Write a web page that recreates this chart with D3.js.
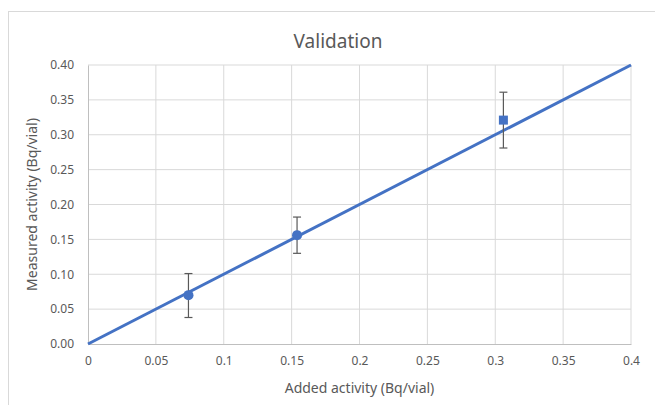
<!DOCTYPE html>
<html>
<head>
<meta charset="utf-8">
<script src="https://cdn.jsdelivr.net/npm/d3@7"></script>
<style>
  body { margin: 0; background: #fff; }
  text { font-family: "Noto Sans", sans-serif; fill: #595959; }
</style>
</head>
<body>
<script>
// data
var addedActivity = [0.074, 0.154, 0.306];
var measuredActivity = [0.070, 0.156, 0.321];
var errLow = [0.038, 0.130, 0.281];
var errHigh = [0.101, 0.182, 0.361];
var markerShape = ["circle", "circle", "square"];
var fitLine = [[0, 0], [0.4, 0.4]];
var xTicks = [0, 0.05, 0.1, 0.15, 0.2, 0.25, 0.3, 0.35, 0.4];
var yTicks = [0, 0.05, 0.1, 0.15, 0.2, 0.25, 0.3, 0.35, 0.4];

var svg = d3.select("body").append("svg")
  .attr("width", 655)
  .attr("height", 405);

// chart border
svg.append("rect")
  .attr("x", 8.5).attr("y", 11.5)
  .attr("width", 660).attr("height", 400)
  .attr("fill", "none")
  .attr("stroke", "#d9d9d9");

var margin = {top: 65, right: 24, bottom: 61, left: 88};
var width = 655 - margin.left - margin.right;
var height = 405 - margin.top - margin.bottom;

var g = svg.append("g")
  .attr("transform", "translate(" + margin.left + "," + margin.top + ")");

var x = d3.scaleLinear().domain([0, 0.4]).range([0, width]);
var y = d3.scaleLinear().domain([0, 0.4]).range([height, 0]);

// gridlines
g.selectAll(".vgrid").data(xTicks.slice(1)).join("line")
  .attr("x1", d => x(d)).attr("x2", d => x(d))
  .attr("y1", 0).attr("y2", height)
  .attr("stroke", "#d9d9d9");
g.selectAll(".hgrid").data(yTicks.slice(1)).join("line")
  .attr("x1", 0).attr("x2", width)
  .attr("y1", d => y(d)).attr("y2", d => y(d))
  .attr("stroke", "#d9d9d9");

// axes
var xAxis = g.append("g")
  .attr("transform", "translate(0," + height + ")")
  .call(d3.axisBottom(x).tickValues(xTicks).tickSize(0).tickPadding(12).tickFormat(d3.format("")));
var yAxis = g.append("g")
  .call(d3.axisLeft(y).tickValues(yTicks).tickSize(0).tickPadding(14).tickFormat(d3.format(".2f")));
xAxis.select(".domain").attr("stroke", "#bfbfbf");
yAxis.select(".domain").attr("stroke", "#bfbfbf");
g.selectAll(".tick text").style("font-size", "12px").attr("fill", "#595959");

// fit line
g.append("path")
  .datum(fitLine)
  .attr("d", d3.line().x(d => x(d[0])).y(d => y(d[1])))
  .attr("stroke", "#4472c4")
  .attr("stroke-width", 3)
  .attr("fill", "none");

// error bars
var pts = addedActivity.map((v, i) => ({x: v, y: measuredActivity[i], lo: errLow[i], hi: errHigh[i], shape: markerShape[i]}));
var eb = g.selectAll(".err").data(pts).join("g");
eb.append("line")
  .attr("x1", d => x(d.x)).attr("x2", d => x(d.x))
  .attr("y1", d => y(d.lo)).attr("y2", d => y(d.hi))
  .attr("stroke", "#595959").attr("stroke-width", 1.2);
eb.append("line")
  .attr("x1", d => x(d.x) - 4).attr("x2", d => x(d.x) + 4)
  .attr("y1", d => y(d.lo)).attr("y2", d => y(d.lo))
  .attr("stroke", "#595959").attr("stroke-width", 1.2);
eb.append("line")
  .attr("x1", d => x(d.x) - 4).attr("x2", d => x(d.x) + 4)
  .attr("y1", d => y(d.hi)).attr("y2", d => y(d.hi))
  .attr("stroke", "#595959").attr("stroke-width", 1.2);

// markers
g.selectAll(".pt").data(pts).join("path")
  .attr("transform", d => "translate(" + x(d.x) + "," + y(d.y) + ")")
  .attr("d", d => d3.symbol().type(d.shape === "square" ? d3.symbolSquare : d3.symbolCircle).size(d.shape === "square" ? 81 : 80)())
  .attr("fill", "#4472c4");

// titles
svg.append("text")
  .attr("x", 338).attr("y", 48)
  .attr("text-anchor", "middle")
  .style("font-size", "19px")
  .text("Validation");

svg.append("text")
  .attr("x", margin.left + width / 2).attr("y", 393)
  .attr("text-anchor", "middle")
  .style("font-size", "14px")
  .text("Added activity (Bq/vial)");

svg.append("text")
  .attr("transform", "translate(37," + (margin.top + height / 2) + ") rotate(-90)")
  .attr("text-anchor", "middle")
  .style("font-size", "14px")
  .text("Measured activity (Bq/vial)");
</script>
</body>
</html>
